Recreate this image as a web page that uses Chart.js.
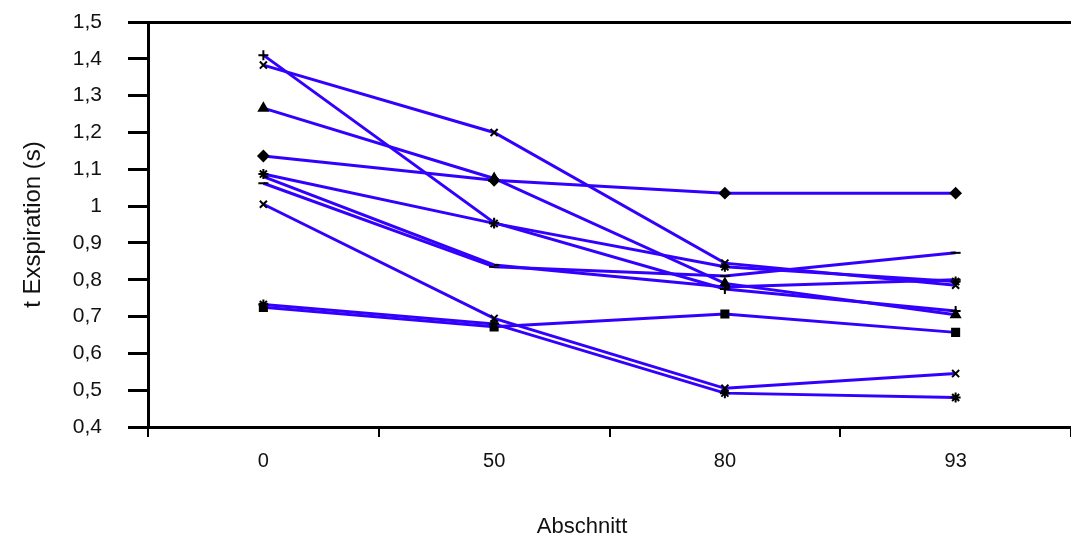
<!DOCTYPE html>
<html lang="de">
<head>
    <meta charset="UTF-8">
    <title>t Exspiration</title>
    <style>
        html, body {
            margin: 0;
            padding: 0;
            background: #fff;
        }

        #wrap {
            width: 1071px;
            height: 547px;
        }
    </style>
    <script src="https://cdn.jsdelivr.net/npm/chart.js"></script>
</head>
<body>
    <div id="wrap">
        <canvas id="chart"></canvas>
    </div>

    <script>
        // Abschnitte (x categories)
        const abschnitte = ['0', '50', '80', '93'];

        // one series per subject, values in seconds
        const s1 = [1.41, 0.955, 0.775, 0.715];
        const s2 = [1.383, 1.2, 0.845, 0.785];
        const s3 = [1.266, 1.075, 0.79, 0.705];
        const s4 = [1.136, 1.07, 1.035, 1.035];
        const s5 = [1.087, 0.953, 0.835, 0.795];
        const s6 = [1.08, 0.84, 0.78, 0.80];
        const s7 = [1.062, 0.835, 0.81, 0.873];
        const s8 = [1.005, 0.695, 0.505, 0.545];
        const s9 = [0.733, 0.68, 0.492, 0.48];
        const s10 = [0.725, 0.672, 0.707, 0.657];

        const series = [s1, s2, s3, s4, s5, s6, s7, s8, s9, s10];
        const markers = ['cross', 'crossRot', 'triangle', 'rectRot', 'star', 'dash', 'line', 'crossRot', 'star', 'rect'];

        const yTicks = { min: 0.4, max: 1.5, step: 0.1 };

        const lineColor = '#3300ff';
        const fontFamily = 'Liberation Sans, Arial, sans-serif';

        const datasets = series.map((values, i) => ({
            label: 'P' + (i + 1),
            data: values,
            borderColor: lineColor,
            borderWidth: 3,
            tension: 0,
            fill: false,
            pointStyle: markers[i],
            pointRadius: 5,
            pointBorderColor: '#000',
            pointBackgroundColor: '#000',
            pointBorderWidth: 2,
            pointHoverRadius: 5
        }));

        function fmt(v) {
            const r = Math.round(v * 10) / 10;
            return String(r).replace('.', ',');
        }

        // x axis title sits a bit left of the plot centre in the original
        const xTitle = {
            id: 'xTitle',
            afterDraw(chart) {
                const c = chart.ctx;
                c.save();
                c.fillStyle = '#111';
                c.font = '22px ' + fontFamily;
                c.textAlign = 'center';
                c.textBaseline = 'middle';
                c.fillText('Abschnitt', 582, 527);
                c.restore();
            }
        };

        const ctx = document.getElementById('chart').getContext('2d');
        new Chart(ctx, {
            type: 'line',
            data: {
                labels: abschnitte,
                datasets: datasets
            },
            plugins: [xTitle],
            options: {
                responsive: true,
                maintainAspectRatio: false,
                animation: false,
                layout: {
                    autoPadding: false,
                    padding: { top: 22, right: 0, bottom: 0, left: 0 }
                },
                plugins: {
                    legend: { display: false },
                    tooltip: { enabled: false }
                },
                scales: {
                    x: {
                        offset: true,
                        afterFit: scale => {
                            scale.height = 120;
                            scale.paddingLeft = 0;
                            scale.paddingRight = 0;
                        },
                        grid: {
                            display: true,
                            offset: true,
                            drawOnChartArea: false,
                            drawTicks: true,
                            tickLength: 10,
                            color: '#000',
                            lineWidth: 2
                        },
                        border: { display: true, color: '#000', width: 3 },
                        ticks: {
                            color: '#111',
                            padding: 12,
                            font: { family: fontFamily, size: 20 }
                        }
                    },
                    y: {
                        min: yTicks.min,
                        max: yTicks.max,
                        afterFit: scale => {
                            scale.width = 148;
                            scale.paddingTop = 0;
                            scale.paddingBottom = 0;
                        },
                        grid: {
                            display: true,
                            drawOnChartArea: true,
                            drawTicks: true,
                            tickLength: 20,
                            lineWidth: 3,
                            tickColor: '#000',
                            // only the top value draws across the plot (frame line)
                            color: c => (c.tick && Math.abs(c.tick.value - yTicks.max) < 1e-6) ? '#000' : 'rgba(0,0,0,0)'
                        },
                        border: { display: true, color: '#000', width: 3 },
                        ticks: {
                            stepSize: yTicks.step,
                            color: '#111',
                            padding: 26,
                            callback: v => fmt(v),
                            font: { family: fontFamily, size: 21 }
                        },
                        title: {
                            display: true,
                            text: 't Exspiration (s)',
                            color: '#111',
                            padding: { top: 19, bottom: 0 },
                            font: { family: fontFamily, size: 24 }
                        }
                    }
                }
            }
        });
    </script>
</body>
</html>
